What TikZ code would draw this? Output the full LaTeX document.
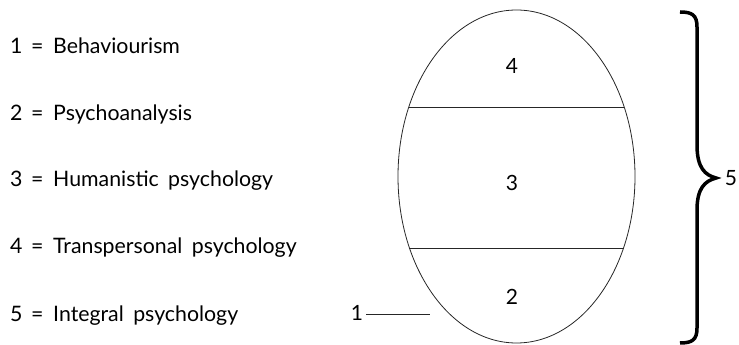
\documentclass[tikz,border=0pt]{standalone}
\usepackage{fontspec}
\setmainfont{Lato}
\usetikzlibrary{shapes.geometric}
\newcommand{\legline}[2]{\makebox[20pt][l]{#1}\makebox[14pt][c]{=}\hspace{9pt}#2}
\begin{document}
\begin{tikzpicture}[x=1pt,y=1pt,
  lbl/.style={anchor=base west,inner sep=0pt,font=\fontsize{21.3}{24}\selectfont},
  num/.style={inner sep=0pt,font=\fontsize{21}{24}\selectfont},
  thin/.style={line width=0.8pt,black!85}]
\useasboundingbox (0,0) rectangle (739,345);
% legend
\node[lbl] (l1) at (10,291) {\legline{1}{Behaviourism}};
\node[lbl] (l2) at (10,224) {\legline{2}{Psychoanalysis}};
\node[lbl] (l3) at (10,158) {\legline{3}{Humanistic\hspace{4pt} psychology}};
\node[lbl] (l4) at (10,91) {\legline{4}{Transpersonal\hspace{4pt} psychology}};
\node[lbl] (l5) at (10,23) {\legline{5}{Integral\hspace{4pt} psychology}};
% egg
\node[draw,thin,ellipse,minimum width=237pt,minimum height=333pt,inner sep=0pt] (egg) at (516.5,168.5) {};
\coordinate (a1) at (408.8,238);
\coordinate (a2) at (624.2,238);
\coordinate (b1) at (408.8,97);
\coordinate (b2) at (624.2,97);
\draw[thin] (a1) -- (a2);
\draw[thin] (b1) -- (b2);
\node[num] (n4) at (512,279) {4};
\node[num] (n3) at (512,162) {3};
\node[num] (n2) at (512,48) {2};
\node[num,anchor=center] (n1) at (357,32.5) {1};
\coordinate (c0) at (366,31);
\coordinate (c1) at (430,31);
\draw[thin] (c0) -- (c1);
% brace
\draw[line width=3.5pt] (680,333) .. controls (692,333) and (697,330) .. (697,318)
  -- (697,200) .. controls (697,177) and (705,170) .. (716,167)
  .. controls (705,164) and (697,157) .. (697,135)
  -- (697,17) .. controls (697,5) and (692,2) .. (680,2);
\node[num] (n5) at (731,167) {5};
\end{tikzpicture}
\end{document}
